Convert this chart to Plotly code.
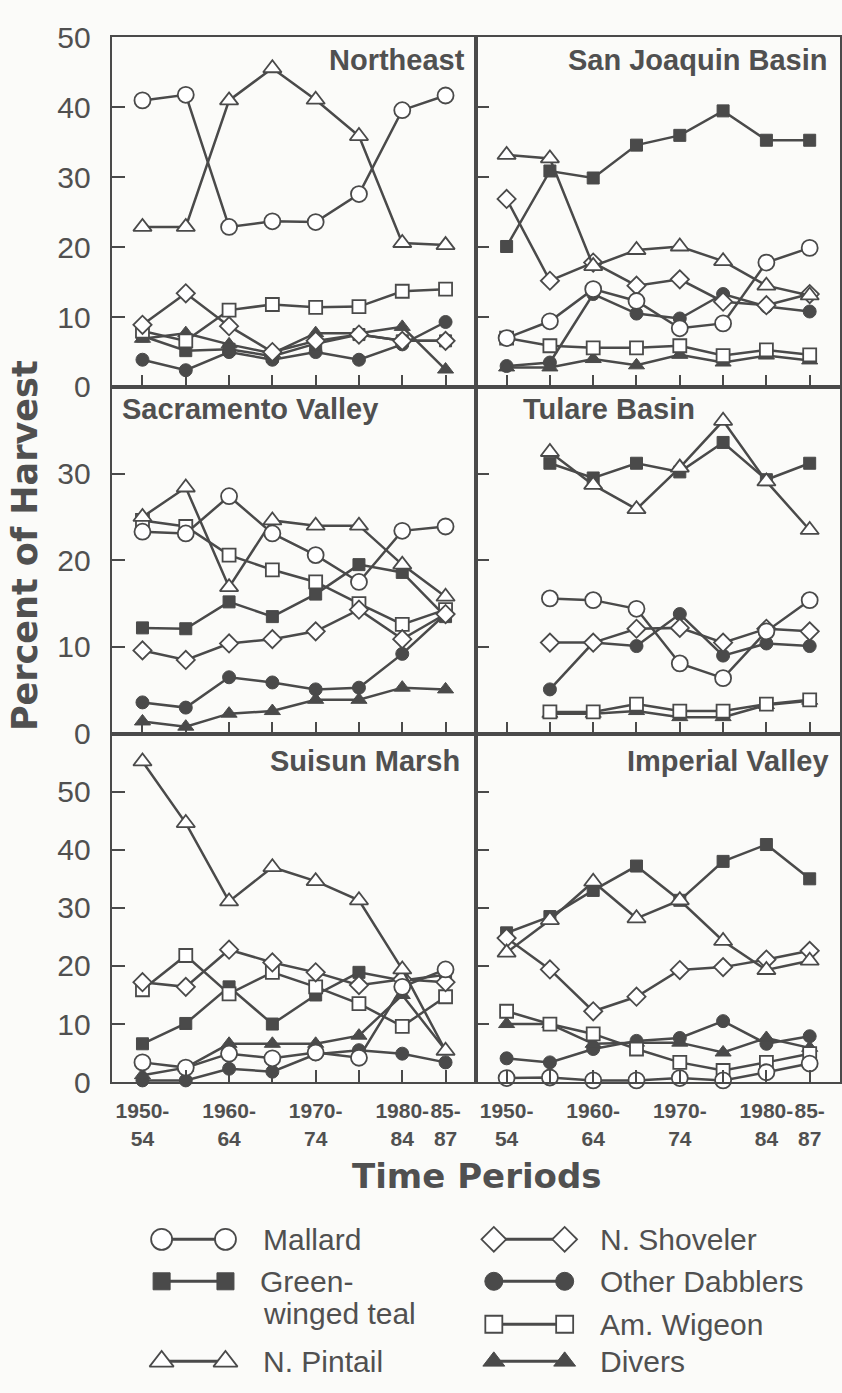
import plotly.graph_objects as go

# ---------------- data ----------------
periods = ["1950-54", "1955-59", "1960-64", "1965-69", "1970-74", "1975-79", "1980-84", "1985-87"]
tick_text = ["1950-<br>54", "", "1960-<br>64", "", "1970-<br>74", "", "1980-<br>84", "85-<br>87"]

regions = ["Northeast", "San Joaquin Basin", "Sacramento Valley", "Tulare Basin", "Suisun Marsh", "Imperial Valley"]
species = ["Mallard", "Green-winged teal", "N. Pintail", "N. Shoveler", "Other Dabblers", "Am. Wigeon", "Divers"]

northeast_mallard = [41.0, 41.8, 22.9, 23.7, 23.6, 27.6, 39.6, 41.7]
northeast_teal = [7.3, 5.2, 5.4, 4.4, 6.2, 7.5, 6.6, 6.6]
northeast_pintail = [22.9, 22.9, 41.0, 45.6, 41.1, 35.9, 20.6, 20.3]
northeast_shoveler = [8.9, 13.4, 8.7, 5.0, 6.6, 7.5, 6.6, 6.6]
northeast_dabblers = [3.9, 2.4, 5.0, 3.9, 5.0, 3.9, 6.1, 9.3]
northeast_wigeon = [8.0, 6.6, 11.0, 11.8, 11.4, 11.5, 13.7, 14.0]
northeast_divers = [6.9, 7.7, 6.1, 4.8, 7.7, 7.7, 8.6, 2.5]

sanjoaquin_mallard = [7.0, 9.4, 14.0, 12.3, 8.4, 9.1, 17.8, 19.9]
sanjoaquin_teal = [20.1, 30.9, 29.9, 34.6, 36.0, 39.5, 35.3, 35.3]
sanjoaquin_pintail = [33.2, 32.7, 17.3, 19.6, 20.1, 18.0, 14.5, 13.1]
sanjoaquin_shoveler = [26.9, 15.2, 17.8, 14.5, 15.4, 12.2, 11.7, 13.3]
sanjoaquin_dabblers = [3.0, 3.5, 13.3, 10.5, 9.8, 13.3, 11.5, 10.8]
sanjoaquin_wigeon = [7.0, 5.9, 5.6, 5.6, 5.9, 4.5, 5.3, 4.6]
sanjoaquin_divers = [2.8, 2.8, 4.0, 3.1, 4.6, 3.5, 4.5, 3.8]

sacramento_mallard = [23.3, 23.1, 27.4, 23.1, 20.6, 17.5, 23.4, 23.9]
sacramento_teal = [12.2, 12.1, 15.2, 13.5, 16.1, 19.5, 18.6, 13.5]
sacramento_pintail = [25.0, 28.4, 16.9, 24.6, 24.0, 24.0, 19.5, 15.8]
sacramento_shoveler = [9.6, 8.5, 10.4, 10.9, 11.8, 14.3, 10.9, 13.8]
sacramento_dabblers = [3.6, 3.0, 6.5, 5.9, 5.1, 5.3, 9.2, 13.8]
sacramento_wigeon = [24.6, 23.9, 20.6, 18.9, 17.5, 15.0, 12.6, 14.3]
sacramento_divers = [1.4, 0.8, 2.3, 2.6, 3.9, 3.9, 5.3, 5.1]

tulare_mallard = [None, 15.6, 15.4, 14.4, 8.1, 6.4, 11.8, 15.4]
tulare_teal = [None, 31.2, 29.5, 31.2, 30.2, 33.6, 29.3, 31.2]
tulare_pintail = [None, 32.5, 28.7, 25.9, 30.7, 36.1, 29.1, 23.5]
tulare_shoveler = [None, 10.5, 10.5, 12.1, 12.2, 10.5, 12.1, 11.8]
tulare_dabblers = [None, 5.1, 10.5, 10.1, 13.8, 9.0, 10.4, 10.1]
tulare_wigeon = [None, 2.5, 2.5, 3.4, 2.6, 2.6, 3.4, 3.9]
tulare_divers = [None, 2.3, 2.3, 2.6, 1.9, 1.9, 3.3, 3.8]

suisun_mallard = [3.4, 2.5, 4.9, 4.1, 5.1, 4.2, 16.4, 19.4]
suisun_teal = [6.6, 10.1, 16.4, 10.0, 15.0, 18.9, 17.5, 18.5]
suisun_pintail = [55.2, 44.6, 31.1, 37.0, 34.6, 31.3, 19.4, 5.4]
suisun_shoveler = [17.2, 16.4, 22.8, 20.6, 18.9, 16.7, 17.7, 17.2]
suisun_dabblers = [0.3, 0.3, 2.3, 1.8, 4.8, 5.5, 4.9, 3.4]
suisun_wigeon = [15.9, 21.8, 15.2, 18.9, 16.4, 13.5, 9.6, 14.7]
suisun_divers = [1.2, 2.5, 6.6, 6.6, 6.6, 8.0, 15.0, 5.5]

imperial_mallard = [0.7, 0.8, 0.3, 0.3, 0.7, 0.3, 1.7, 3.2]
imperial_teal = [25.7, 28.5, 33.0, 37.2, 31.3, 38.0, 40.9, 35.0]
imperial_pintail = [22.3, 27.9, 34.5, 28.2, 31.3, 24.3, 19.3, 20.9]
imperial_shoveler = [24.8, 19.4, 12.2, 14.7, 19.3, 19.8, 21.1, 22.6]
imperial_dabblers = [4.1, 3.4, 5.7, 7.1, 7.6, 10.5, 6.6, 7.9]
imperial_wigeon = [12.2, 10.0, 8.3, 5.7, 3.4, 2.0, 3.4, 4.9]
imperial_divers = [10.0, 10.0, 6.6, 6.8, 6.8, 5.1, 7.6, 5.9]

panel_data = [
    [northeast_mallard, northeast_teal, northeast_pintail, northeast_shoveler, northeast_dabblers, northeast_wigeon, northeast_divers],
    [sanjoaquin_mallard, sanjoaquin_teal, sanjoaquin_pintail, sanjoaquin_shoveler, sanjoaquin_dabblers, sanjoaquin_wigeon, sanjoaquin_divers],
    [sacramento_mallard, sacramento_teal, sacramento_pintail, sacramento_shoveler, sacramento_dabblers, sacramento_wigeon, sacramento_divers],
    [tulare_mallard, tulare_teal, tulare_pintail, tulare_shoveler, tulare_dabblers, tulare_wigeon, tulare_divers],
    [suisun_mallard, suisun_teal, suisun_pintail, suisun_shoveler, suisun_dabblers, suisun_wigeon, suisun_divers],
    [imperial_mallard, imperial_teal, imperial_pintail, imperial_shoveler, imperial_dabblers, imperial_wigeon, imperial_divers],
]

row_ranges = [[0, 50], [0, 40], [0, 60]]
row_ticks = [[0, 10, 20, 30, 40, 50], [0, 10, 20, 30], [0, 10, 20, 30, 40, 50]]

# ---------------- styles ----------------
W, H = 842, 1393
INK = "#4a4a4a"
TXT = "#505050"
BG = "#fbfbf9"

marker_style = {
    "Mallard": dict(symbol="circle", size=16, color="white", line=dict(color=INK, width=1.8)),
    "Green-winged teal": dict(symbol="square", size=12, color=INK, line=dict(color=INK, width=1)),
    "N. Pintail": dict(symbol="triangle-up", size=16, color="white", line=dict(color=INK, width=1.8)),
    "N. Shoveler": dict(symbol="diamond", size=14, color="white", line=dict(color=INK, width=1.8)),
    "Other Dabblers": dict(symbol="circle", size=13, color=INK, line=dict(color=INK, width=1)),
    "Am. Wigeon": dict(symbol="square", size=13, color="white", line=dict(color=INK, width=1.8)),
    "Divers": dict(symbol="triangle-up", size=14, color=INK, line=dict(color=INK, width=1)),
}
draw_order = ["Other Dabblers", "Divers", "Green-winged teal", "Am. Wigeon", "N. Shoveler", "N. Pintail", "Mallard"]

# panel geometry in pixels
col_x = [(112, 477), (477, 842)]
row_y = [(22, 380), (380, 735), (735, 1092)]

def px_x(v):
    return v / W

def px_y(v):
    return 1 - v / H

fig = go.Figure()
layout = dict(
    width=W, height=H,
    margin=dict(l=0, r=0, t=0, b=0),
    paper_bgcolor=BG, plot_bgcolor=BG,
    showlegend=False,
    font=dict(family="Liberation Sans, Arial, sans-serif", color=TXT),
)

for i, region in enumerate(regions):
    r, c = divmod(i, 2)
    idx = i + 1
    xa = "x" if idx == 1 else f"x{idx}"
    ya = "y" if idx == 1 else f"y{idx}"
    for sp in draw_order:
        k = species.index(sp)
        fig.add_trace(go.Scatter(
            x=list(range(len(periods))), y=panel_data[i][k],
            mode="lines+markers", name=sp,
            line=dict(color=INK, width=2.5),
            marker=marker_style[sp],
            xaxis=xa, yaxis=ya, cliponaxis=False,
        ))
    x0, x1 = col_x[c]
    y0, y1 = row_y[r]
    layout["xaxis" if idx == 1 else f"xaxis{idx}"] = dict(
        domain=[px_x(x0), px_x(x1)], anchor=ya, range=[-0.71, 7.70],
        tickmode="array", tickvals=list(range(8)), ticktext=tick_text, tickangle=0,
        showticklabels=(r == 2), ticks="inside", ticklen=12, tickwidth=2, tickcolor=INK,
        showline=True, linecolor=INK, linewidth=2, mirror=True,
        showgrid=False, zeroline=False, fixedrange=True,
        tickfont=dict(family="Liberation Sans, Arial, sans-serif", size=21, color=TXT, weight="bold"),
        ticklabelstandoff=9,
    )
    layout["yaxis" if idx == 1 else f"yaxis{idx}"] = dict(
        domain=[px_y(y1), px_y(y0)], anchor=xa, range=row_ranges[r],
        tickmode="array", tickvals=row_ticks[r],
        showticklabels=(c == 0), ticks="inside", ticklen=13, tickwidth=2, tickcolor=INK,
        showline=True, linecolor=INK, linewidth=2, mirror=True,
        showgrid=False, zeroline=False, fixedrange=True,
        tickfont=dict(family="Liberation Sans, Arial, sans-serif", size=30, color=TXT),
        ticklabelstandoff=13,
    )

# ---------------- legend (custom, own axis) ----------------
legend_pos = {
    "Mallard": (162, 226, 1253),
    "Green-winged teal": (162, 226, 1296),
    "N. Pintail": (162, 226, 1378),
    "N. Shoveler": (495, 566, 1253),
    "Other Dabblers": (495, 566, 1296),
    "Am. Wigeon": (495, 566, 1340),
    "Divers": (495, 566, 1378),
}
legend_size = {"Mallard": 21, "Green-winged teal": 17, "N. Pintail": 21, "N. Shoveler": 19,
               "Other Dabblers": 18, "Am. Wigeon": 17, "Divers": 19}
for sp in species:
    xa_, xb_, yy = legend_pos[sp]
    m = dict(marker_style[sp])
    m["size"] = legend_size[sp]
    fig.add_trace(go.Scatter(
        x=[xa_, xb_], y=[yy, yy], mode="lines+markers",
        line=dict(color=INK, width=3), marker=m,
        xaxis="x7", yaxis="y7", hoverinfo="skip", cliponaxis=False,
    ))
layout["xaxis7"] = dict(domain=[0, 1], range=[0, W], visible=False, fixedrange=True, anchor="y7")
layout["yaxis7"] = dict(domain=[0, 1 - 1225 / H], range=[H, 1225], visible=False, fixedrange=True, anchor="x7")

annotations = []
leg_text = [
    ("Mallard", 262, 1253), ("Green-", 259, 1296), ("winged teal", 262, 1329), ("N. Pintail", 262, 1378),
    ("N. Shoveler", 599, 1253), ("Other Dabblers", 599, 1296), ("Am. Wigeon", 599, 1340), ("Divers", 599, 1378),
]
for t, x, y in leg_text:
    annotations.append(dict(text=t, x=px_x(x), y=px_y(y), xref="paper", yref="paper",
                            xanchor="left", yanchor="middle", showarrow=False,
                            font=dict(family="Liberation Sans, Arial, sans-serif", size=30, color=TXT)))

# panel titles
title_pos = [
    ("Northeast", 468, 45, "right"), ("San Joaquin Basin", 831, 45, "right"),
    ("Sacramento Valley", 120, 403, "left"), ("Tulare Basin", 522, 403, "left"),
    ("Suisun Marsh", 463, 763, "right"), ("Imperial Valley", 833, 763, "right"),
]
for t, x, y, anc in title_pos:
    annotations.append(dict(text=t, x=px_x(x), y=px_y(y), xref="paper", yref="paper",
                            xanchor=anc, yanchor="middle", showarrow=False,
                            font=dict(family="Liberation Sans, Arial, sans-serif", size=29, color=TXT, weight="bold")))

# axis titles
annotations.append(dict(text="Percent of Harvest", x=px_x(25), y=px_y(542), xref="paper", yref="paper",
                        textangle=-90, xanchor="center", yanchor="middle", showarrow=False,
                        font=dict(family="DejaVu Sans, sans-serif", size=35, color=TXT, weight="bold")))
annotations.append(dict(text="Time Periods", x=px_x(478), y=px_y(1188), xref="paper", yref="paper",
                        xanchor="center", yanchor="middle", showarrow=False,
                        font=dict(family="DejaVu Sans, sans-serif", size=34, color=TXT, weight="bold")))

layout["annotations"] = annotations
fig.update_layout(**layout)
fig.write_html("out.html", config={"displayModeBar": False},
               post_script="document.body.style.margin='0';document.body.style.overflow='hidden';")
